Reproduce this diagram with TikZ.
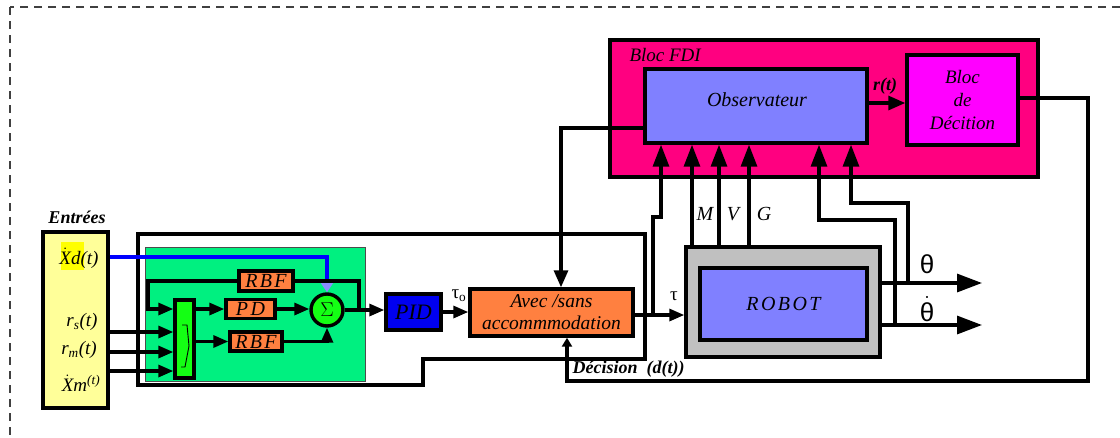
\RequirePackage{fix-cm}
\documentclass[tikz,border=0pt]{standalone}
\usepackage{fontspec}
\setmainfont{Liberation Serif}
\newfontfamily\sansgr{Liberation Sans}
\newfontfamily\spaced[LetterSpace=12]{Liberation Serif}
\usetikzlibrary{arrows.meta}
\definecolor{inyellow}{RGB}{255,255,153}
\definecolor{hlyellow}{RGB}{255,255,0}
\definecolor{ctlgreen}{RGB}{0,240,128}
\definecolor{brgreen}{RGB}{20,255,20}
\definecolor{orng}{RGB}{255,128,64}
\definecolor{pidblue}{RGB}{0,0,240}
\definecolor{robgray}{RGB}{192,192,192}
\definecolor{lav}{RGB}{128,128,255}
\definecolor{fdipink}{RGB}{255,0,128}
\definecolor{mag}{RGB}{255,0,255}
\definecolor{arrblue}{RGB}{140,140,255}
\definecolor{wireblue}{RGB}{0,0,255}
\newcommand{\dotX}{$\dot{\hbox{\itshape X}}$}
\begin{document}
\begin{tikzpicture}[x=1pt,y=-1pt,
  box/.style={draw, line width=3.4pt, inner sep=0pt},
  it/.style={font=\itshape\fontsize{#1}{#1}\selectfont},
  sp/.style={font=\spaced\itshape\fontsize{#1}{#1}\selectfont},
  wire/.style={line width=3.2pt},
  arrS/.style={line width=3.2pt, -{Triangle[length=15pt,width=12pt]}},
  arrM/.style={line width=3.2pt, -{Triangle[length=17pt,width=14pt]}},
  arrL/.style={line width=3.2pt, -{Triangle[length=22pt,width=16pt]}},
  arrT/.style={line width=3.2pt, -{Triangle[length=25pt,width=18pt]}},
  border/.style={line width=1.5pt, black!75, dash pattern=on 8pt off 6pt}
]
\useasboundingbox (0,0) rectangle (1120,437);
\fill[white] (0,0) rectangle (1120,437);
\begin{scope}
\clip (0,0) rectangle (1120,437);
\draw[border] (10,7) rectangle (1200,520);
\end{scope}

% ---------- inputs ----------
\node[box, fill=inyellow, minimum width=65, minimum height=176] (inbox) at (75.5,320) {};
\fill[hlyellow] (61,242) rectangle (84,270);
\node[font=\bfseries\itshape\fontsize{18}{20}\selectfont] (entrees) at (77,217) {Entrées};
\node[it=19, inner sep=1pt] (xd) at (79,258) {\dotX d(t)};
\node[it=19, inner sep=1pt] (rs) at (82,322) {r\textsubscript{s}(t)};
\node[it=19, inner sep=1pt] (rm) at (79,350) {r\textsubscript{m}(t)};
\node[it=19, inner sep=1pt] (xm) at (81,383) {\dotX m\textsuperscript{(t)}};

% ---------- controller ----------
\draw[line width=3.4pt] (138,234) -- (645,234) -- (645,359) -- (423,359) -- (423,385) -- (138,385) -- cycle;
\node[draw=black!70, line width=1pt, fill=ctlgreen, minimum width=220, minimum height=134, inner sep=0pt] (gbox) at (255,314) {};

\node[box, fill=orng, minimum width=54, minimum height=20, sp=20] (rbf1) at (266,281) {RBF};
\node[box, fill=orng, minimum width=49, minimum height=19, sp=20] (pd) at (250.5,309) {PD};
\node[box, fill=orng, minimum width=52, minimum height=19, sp=20] (rbf2) at (256,341.5) {RBF};
\node[box, fill=brgreen, minimum width=19, minimum height=78] (integ) at (184.5,339) {};
\draw[line width=0.9pt] (182,325) -- (187,325) -- (189,346) -- (185,367) -- (181,367);
\node[circle, draw, line width=3.4pt, fill=brgreen, minimum size=32, inner sep=0pt, font=\fontsize{20}{20}\selectfont] (sigma) at (327,310) {$\Sigma$};

\node[box, fill=pidblue, minimum width=55, minimum height=36, it=22] (pid) at (413.5,312) {PID};
\node[box, fill=orng, minimum width=163, minimum height=47, align=center, font=\itshape\fontsize{19.5}{22}\selectfont] (avec) at (551.5,312.5) {Avec /sans\\accommmodation};

% ---------- robot ----------
\node[box, fill=robgray, minimum width=194, minimum height=110] (robout) at (783,302) {};
\node[box, fill=lav, minimum width=167, minimum height=72, sp=20] (robot) at (783.5,304) {ROBOT};

% ---------- FDI ----------
\node[box, fill=fdipink, minimum width=428, minimum height=137] (fdi) at (824,108.5) {};
\node[font=\itshape\fontsize{19}{19}\selectfont, anchor=west] (fdilbl) at (626,55) {Bloc FDI};
\node[box, fill=lav, minimum width=222, minimum height=74] (obs) at (756,106) {};
\node[it=20] (obslbl) at (757,100) {Observateur};
\node[box, fill=mag, minimum width=111, minimum height=90, align=center, font=\itshape\fontsize{19}{23}\selectfont] (dec) at (962.5,100) {Bloc\\de\\Décition};

% ---------- connectors in controller ----------
\draw[wire, wireblue] (inbox.east |- 0,257) -- (sigma.north |- 0,257) -- (sigma.north |- 0,285);
\draw[line width=3.2pt, wireblue, -{Triangle[length=11pt,width=14pt,color=arrblue]}] (sigma.north |- 0,284) -- (sigma.north);
\draw[arrS] (inbox.east |- 0,332) -- (integ.west |- 0,332);
\draw[arrS] (inbox.east |- 0,352) -- (integ.west |- 0,352);
\draw[arrS] (inbox.east |- 0,371) -- (integ.west |- 0,371);
\draw[wire] (359,310) -- (359,281) -- (rbf1.east);
\draw[arrS] (rbf1.west) -- (148,281) -- (148,309) -- (integ.west |- 0,309);
\draw[arrS] (integ.east |- pd.west) -- (pd.west);
\draw[arrS] (pd.east) -- (sigma.west |- pd.east);
\draw[arrS] (integ.east |- rbf2.west) -- (rbf2.west);
\draw[wire] (rbf2.east) -- (sigma.south |- rbf2.east);
\draw[arrS] (sigma.south |- rbf2.east) -- (sigma.south);
\draw[arrS] (sigma.east) -- (pid.west |- sigma.east);
\draw[arrS] (pid.east) -- (avec.west |- pid.east);
\node[font=\fontsize{19}{19}\selectfont] (tau0) at (459,296) {τ\textsubscript{o}};

% ---------- to robot & observer ----------
\draw[arrS] (avec.east |- 0,315) -- (robout.west |- 0,315);
\node[font=\fontsize{19}{19}\selectfont] (tau) at (674,296) {τ};
\draw[wire] (653,315) -- (653,217) -- (661,217) -- (661,160);
\draw[arrL] (661,162) -- (obs.south -| 661,0);
\foreach \xx in {692,719,749}{
  \draw[wire] (robout.north -| \xx,0) -- (\xx,162);
  \draw[arrL] (\xx,162) -- (obs.south -| \xx,0);
}
\node[it=20] (mlbl) at (705,214) {M};
\node[it=20] (vlbl) at (733,214) {V};
\node[it=20] (glbl) at (764,214) {G};

\coordinate (thend) at (982,283);
\coordinate (thdend) at (982,325);
\draw[arrT] (robout.east |- thend) -- (thend);
\draw[arrT] (robout.east |- thdend) -- (thdend);
\node[font=\sansgr\fontsize{26}{26}\selectfont] (th) at (927,264) {θ};
\node[font=\sansgr\fontsize{26}{26}\selectfont] (thd) at (927,309) {$\dot{\hbox{θ}}$};
\draw[wire] (908,283) -- (908,203) -- (851,203) -- (851,162);
\draw[arrL] (851,162) -- (obs.south -| 851,0);
\draw[wire] (895,325) -- (895,220) -- (819,220) -- (819,162);
\draw[arrL] (819,162) -- (obs.south -| 819,0);

% ---------- FDI connectors ----------
\draw[arrM] (obs.east |- 0,103) -- (dec.west |- 0,103);
\node[font=\bfseries\itshape\fontsize{18}{18}\selectfont] (rt) at (885,86) {r(t)};
\draw[wire] (obs.west |- 0,128) -- (561,128) -- (561,270);
\draw[arrM] (561,268) -- (avec.north -| 561,0);
\draw[wire] (dec.east |- 0,98) -- (1088,98) -- (1088,381) -- (567,381) -- (567,345);
\draw[line width=3.2pt, -{Triangle[length=9pt,width=10pt]}] (567,346) -- (avec.south -| 567,0);
\node[font=\bfseries\itshape\fontsize{18}{18}\selectfont, anchor=west] (declbl) at (569,369) {Décision~~(d(t))};
\end{tikzpicture}
\end{document}
